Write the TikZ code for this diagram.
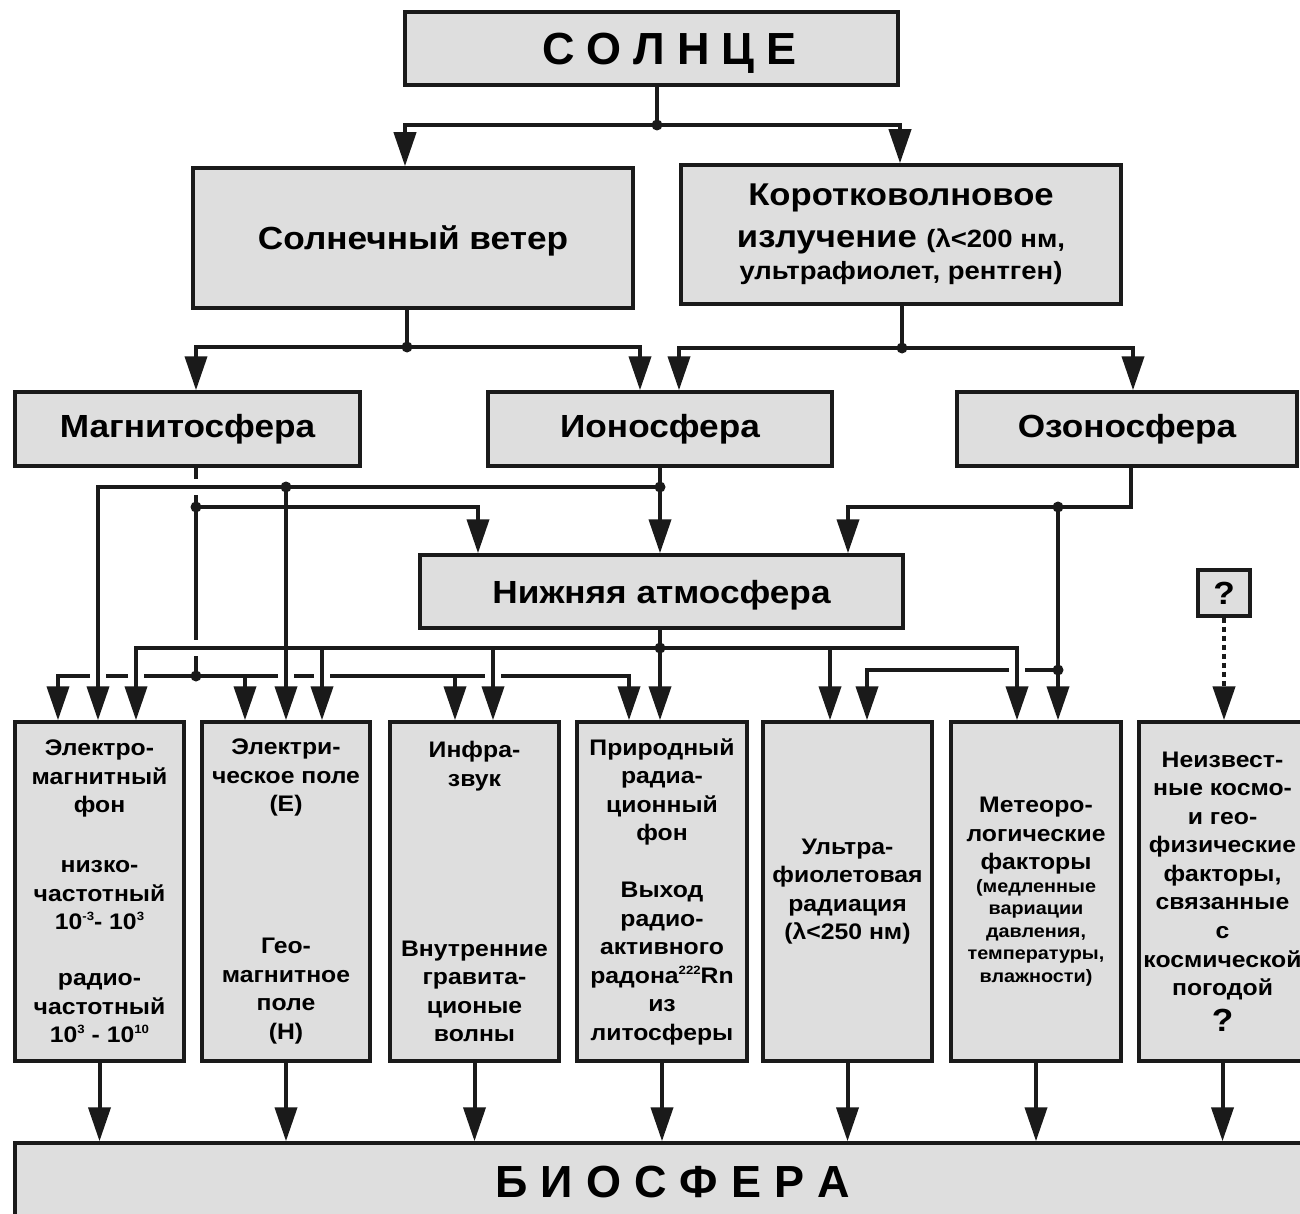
\documentclass[tikz,border=0pt]{standalone}
\usepackage{fontspec}
\setmainfont{Liberation Sans}[FakeStretch=1.1]
\newfontfamily\headfont{Liberation Sans}
\usetikzlibrary{arrows.meta,calc}
\definecolor{boxgray}{HTML}{DEDEDE}
\definecolor{inkc}{HTML}{1A1A1A}
\tikzset{
  box/.style={draw=inkc, line width=3.5pt, fill=boxgray, inner sep=0pt, align=center},
  ln/.style={draw=inkc, line width=4pt},
  arr/.style={draw=inkc, line width=4pt, -{Triangle[width=22pt,length=34pt]}},
  big/.style={font=\bfseries\fontsize{32}{38}\selectfont},
  small/.style={font=\bfseries\fontsize{22.5}{28.5}\selectfont},
  head/.style={font=\headfont\bfseries\fontsize{45}{50}\selectfont, text depth=0pt},
  jdot/.style={fill=inkc},
  gap/.style={fill=white},
}
\newcommand{\smalltxt}[1]{{\fontsize{18}{20}\selectfont #1}}
\newcommand{\supx}[1]{\raisebox{9pt}{\fontsize{12}{12}\selectfont #1}}
\begin{document}
\begin{tikzpicture}[x=1pt,y=-1pt]
\useasboundingbox (0,0) rectangle (1300,1214);
\fill[white] (0,0) rectangle (1300,1214);
\clip (0,0) rectangle (1300,1214);

% ---------- boxes ----------
\node[box, head, minimum width=493, minimum height=73] (sun) at (651.5,48.5)
  {\hspace*{36pt}С\kern12ptО\kern12ptЛ\kern12ptН\kern12ptЦ\kern12ptЕ};
\node[box, big, text depth=0pt, minimum width=440, minimum height=140] (wind) at (413,238) {Солнечный ветер};
\node[box, minimum width=440, minimum height=139, font=\bfseries\fontsize{31.5}{36}\selectfont] (short) at (901,234.5)
  {Коротковолновое\\[6pt]излучение {\fontsize{25}{28}\selectfont (λ<200 нм,}\\[-4pt]{\fontsize{25}{28}\selectfont ультрафиолет, рентген)}};
\node[box, big, minimum width=345, minimum height=74] (magn) at (187.5,429) {Магнитосфера};
\node[box, big, minimum width=344, minimum height=74] (iono) at (660,429) {Ионосфера};
\node[box, big, minimum width=340, minimum height=74] (ozon) at (1127,429) {Озоносфера};
\node[box, big, text depth=0pt, minimum width=483, minimum height=73] (lower) at (661.5,591.5) {Нижняя атмосфера};
\node[box, minimum width=52, minimum height=46, font=\bfseries\fontsize{32}{36}\selectfont] (q) at (1224,593) {?};

\node[box, small, minimum width=169, minimum height=339] (b1) at (99.5,891.5)
  {Электро-\\магнитный\\фон\\[31.5pt]низко-\\частотный\\10\supx{-3}- 10\supx{3}\\[27.5pt]радио-\\частотный\\10\supx{3} - 10\supx{10}};
\node[box, small, minimum width=168, minimum height=339] (b2) at (286,891.5)
  {Электри-\\ческое поле\\(Е)\\[113.5pt]Гео-\\магнитное\\поле\\(Н)};
\node[box, small, minimum width=169, minimum height=339] (b3) at (474.5,891.5)
  {Инфра-\\звук\\[141.5pt]Внутренние\\гравита-\\ционые\\волны};
\node[box, small, minimum width=170, minimum height=339] (b4) at (662,891.5)
  {Природный\\радиа-\\ционный\\фон\\[28.5pt]Выход\\радио-\\активного\\радона\supx{222}Rn\\из\\литосферы};
\node[box, small, minimum width=169, minimum height=339] (b5) at (847.5,891.5)
  {Ультра-\\фиолетовая\\радиация\\(λ<250 нм)};
\node[box, small, minimum width=170, minimum height=339] (b6) at (1036,891.5)
  {Метеоро-\\логические\\факторы\\[-6pt]\smalltxt{(медленные}\\[-6pt]\smalltxt{вариации}\\[-6pt]\smalltxt{давления,}\\[-6pt]\smalltxt{температуры,}\\[-6pt]\smalltxt{влажности)}};
\node[box, small, minimum width=167, minimum height=339] (b7) at (1222.5,891.5)
  {Неизвест-\\ные космо-\\и гео-\\физические\\факторы,\\связанные\\с\\космической\\погодой\\[7pt]{\fontsize{32}{30}\selectfont ?}};
\node[box, head, minimum width=1315, minimum height=77] (bio) at (672.5,1181.5)
  {Б\kern13ptИ\kern13ptО\kern13ptС\kern13ptФ\kern13ptЕ\kern13ptР\kern13ptА};

% ---------- junction coordinates ----------
\coordinate (j0) at (657,125);
\coordinate (j1) at (407,347);
\coordinate (j2) at (902,348);
\coordinate (m1) at (196,507);
\coordinate (m2) at (196,676);
\coordinate (o1) at (1058,507);
\coordinate (o2) at (1058,670);
\coordinate (i1) at (286,487);
\coordinate (i2) at (660,487);
\coordinate (n1) at (660,648);
% target columns
\coordinate (xm1) at (58,0);
\coordinate (xm2) at (245,0);
\coordinate (xm3) at (455,0);
\coordinate (xm4) at (629,0);
\coordinate (xmL) at (478,0);
\coordinate (xi1) at (98,0);
\coordinate (xn1) at (136,0);
\coordinate (xn2) at (322,0);
\coordinate (xn3) at (493,0);
\coordinate (xn5) at (830,0);
\coordinate (xn6) at (1017,0);
\coordinate (xo5) at (867,0);
\coordinate (xoL) at (848,0);
\coordinate (xoz) at (1131,0);

% ---------- top levels ----------
\draw[ln] (j0 |- sun.south) -- (j0);
\draw[arr] (j0) -| ([xshift=-8pt]wind.north);
\draw[arr] (j0) -| ([xshift=-1pt]short.north);
\draw[ln] (j1 |- wind.south) -- (j1);
\draw[arr] (j1) -| ([xshift=8.5pt]magn.north);
\draw[arr] (j1) -| ([xshift=-20pt]iono.north);
\draw[ln] (j2 |- short.south) -- (j2);
\draw[arr] (j2) -| ([xshift=19pt]iono.north);
\draw[arr] (j2) -| ([xshift=6pt]ozon.north);

% ---------- magnetosphere (lower layer) ----------
\draw[ln] (m1 |- magn.south) -- (m2);
\draw[arr] (m1) -| (xmL |- lower.north);
\draw[arr] (m2) -| (xm1 |- b1.north);
\draw[arr] (m2) -| (xm4 |- b4.north);
\draw[arr] (xm2 |- m2) -- (xm2 |- b2.north);
\draw[arr] (xm3 |- m2) -- (xm3 |- b3.north);

% ---------- ozonosphere (lower layer) ----------
\draw[arr] (xoz |- ozon.south) |- (o1) -| (xoL |- lower.north);
\draw[arr] (o1) -- (o1 |- b6.north);
\draw[arr] (o2) -| (xo5 |- b5.north);

% ---------- crossing gaps ----------
\fill[gap] (189,479) rectangle (203,495);
\fill[gap] (189,640) rectangle (203,656);
\foreach \gx in {98,136,286,322,493} {\fill[gap] (\gx-8,669) rectangle (\gx+8,683);}
\fill[gap] (1009,663) rectangle (1025,677);

% ---------- ionosphere ----------
\draw[arr] (i2 |- iono.south) -- (i2 |- lower.north);
\draw[arr] (i2) -| (xi1 |- b1.north);
\draw[arr] (i1) -- (i1 |- b2.north);

% ---------- lower atmosphere ----------
\draw[arr] (n1 |- lower.south) -- (n1 |- b4.north);
\draw[arr] (n1) -| (xn1 |- b1.north);
\draw[arr] (n1) -| (xn6 |- b6.north);
\draw[arr] (xn2 |- n1) -- (xn2 |- b2.north);
\draw[arr] (xn3 |- n1) -- (xn3 |- b3.north);
\draw[arr] (xn5 |- n1) -- (xn5 |- b5.north);

% ---------- unknown factors ----------
\draw[arr, line width=4.5pt, dash pattern=on 5pt off 4pt] (q.south) -- (q.south |- b7.north);

% ---------- dots ----------
\foreach \d in {j0,j1,j2,m1,m2,o1,o2,i1,i2,n1} {\fill[jdot] (\d) circle (5.5);}

% ---------- to biosphere ----------
\foreach \b in {b1,b2,b3,b4,b5,b6,b7} {\draw[arr] (\b.south) -- (\b.south |- bio.north);}
\end{tikzpicture}
\end{document}
